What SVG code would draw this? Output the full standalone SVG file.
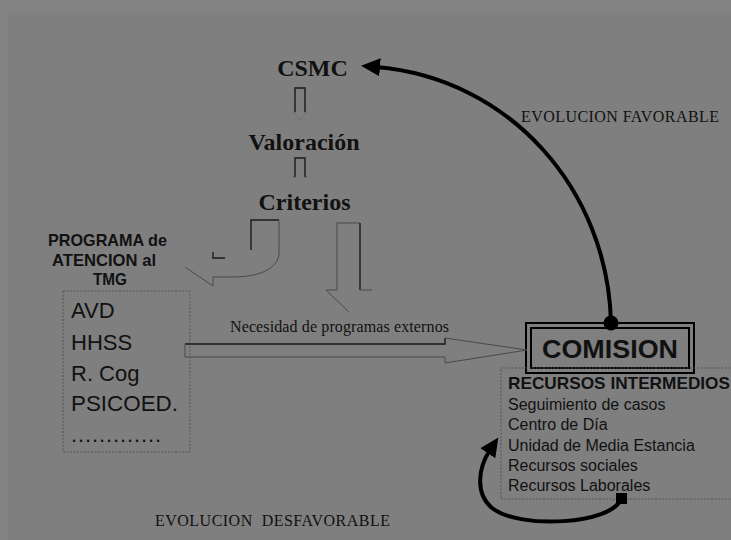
<svg xmlns="http://www.w3.org/2000/svg" width="731" height="540" viewBox="0 0 731 540">
<style>
.serifB{font-family:"Liberation Serif","Times New Roman",serif;font-weight:bold;font-size:24px;fill:#111}
.serif{font-family:"Liberation Serif","Times New Roman",serif;font-size:16px;fill:#111}
.sans{font-family:"Liberation Sans",Arial,sans-serif;fill:#111}
.dk{fill:none;stroke:#1a1a1a;stroke-width:1.4}
.lt{fill:none;stroke:#4a4a4a;stroke-width:1}
.dot{fill:none;stroke:#555;stroke-width:1;stroke-dasharray:2 1.5}
.bold{fill:none;stroke:#000;stroke-width:4;stroke-linecap:round}
</style>
<defs>
<marker id="ah" markerUnits="userSpaceOnUse" markerWidth="20" markerHeight="20" viewBox="0 0 20 20" refX="4" refY="10" orient="auto">
<path d="M0,1 L19,10 L0,19 z" fill="#000"/>
</marker>
</defs>
<rect x="0" y="0" width="731" height="540" fill="#838383"/>
<rect x="8" y="12" width="723" height="528" fill="#7f7f7f"/>

<g id="csmc"><text class="serifB" x="312.5" y="76" text-anchor="middle">CSMC</text></g>
<g id="valoracion"><text class="serifB" x="304" y="150" text-anchor="middle">Valoración</text></g>
<g id="criterios"><text class="serifB" x="304.5" y="210" text-anchor="middle">Criterios</text></g>

<g id="programa">
<text class="sans" font-weight="bold" font-size="17" x="48" y="246" textLength="119" lengthAdjust="spacingAndGlyphs">PROGRAMA de</text>
<text class="sans" font-weight="bold" font-size="17" x="52" y="266" textLength="104" lengthAdjust="spacingAndGlyphs">ATENCION al</text>
<text class="sans" font-weight="bold" font-size="17" x="93" y="285" textLength="34" lengthAdjust="spacingAndGlyphs">TMG</text>
</g>

<g id="programas-box">
<rect class="dot" x="63" y="291" width="127" height="161"/>
<text class="sans" font-size="22" x="71" y="318">AVD</text>
<text class="sans" font-size="22" x="71" y="350">HHSS</text>
<text class="sans" font-size="22" x="71" y="381">R. Cog</text>
<text class="sans" font-size="22" x="71" y="411" textLength="107" lengthAdjust="spacingAndGlyphs">PSICOED.</text>
<text class="sans" font-size="22" x="71" y="442" textLength="90" lengthAdjust="spacing">.............</text>
</g>

<g id="comision">
<rect x="526" y="323" width="168" height="50" fill="none" stroke="#000" stroke-width="2"/>
<rect x="531" y="328" width="158" height="40" fill="none" stroke="#000" stroke-width="2"/>
<text class="sans" font-weight="bold" font-size="26" x="542" y="358" textLength="136" lengthAdjust="spacingAndGlyphs">COMISION</text>
</g>

<g id="recursos">
<rect class="dot" x="501" y="368" width="240" height="131"/>
<text class="sans" font-weight="bold" font-size="17" x="508" y="389" textLength="222" lengthAdjust="spacingAndGlyphs">RECURSOS INTERMEDIOS</text>
<text class="sans" font-size="16" x="508" y="410">Seguimiento de casos</text>
<text class="sans" font-size="16" x="508" y="430">Centro de Día</text>
<text class="sans" font-size="16" x="508" y="451">Unidad de Media Estancia</text>
<text class="sans" font-size="16" x="508" y="471">Recursos sociales</text>
<text class="sans" font-size="16" x="508" y="491">Recursos Laborales</text>
</g>

<g id="labels">
<text class="serif" x="521" y="122" textLength="198" lengthAdjust="spacing">EVOLUCION FAVORABLE</text>
<text class="serif" x="155" y="526" style="white-space:pre" textLength="235" lengthAdjust="spacing">EVOLUCION  DESFAVORABLE</text>
<text class="serif" x="230" y="332" textLength="219" lengthAdjust="spacing">Necesidad de programas externos</text>
</g>

<g id="connectors">
<path class="dk" d="M295,112 V88 H305 V112"/>
<path class="lt" d="M293,112 H295 M305,112 H307"/>
<path d="M293,112 L300,120 L307,112" fill="none" stroke="#6a6a6a" stroke-width="0.8"/>
<path class="dk" d="M295,177 V158 H305 V177"/>
<path class="lt" d="M293,177 H295 M305,177 H307"/>
<path class="dk" d="M251,250 V220 H279"/>
<path class="lt" d="M279,220 V253 C279,268 260,277 233,277 H213 V286 L185,267"/>
<path class="dk" d="M213,252 V258 H225"/>
<path class="lt" d="M337,290 V223 H360"/>
<path class="dk" d="M360,223 V290"/>
<path class="lt" d="M326,290 H337 M360,290 H372 M326,290 L349,312"/>
<path class="dk" d="M185,344 H445 V338"/>
<path class="lt" d="M185,344 V357 H445 V363 L527,350 L445,338"/>
<path class="bold" d="M611,323 C608,190 510,78 376,67" marker-end="url(#ah)"/>
<circle cx="611" cy="323" r="7.5" fill="#000"/>
<rect x="616" y="493" width="11" height="11" fill="#000"/>
<path class="bold" d="M621,499 C612,524 520,530 492,508 C475,494 478,468 490,450" marker-end="url(#ah)"/>
</g>
</svg>
